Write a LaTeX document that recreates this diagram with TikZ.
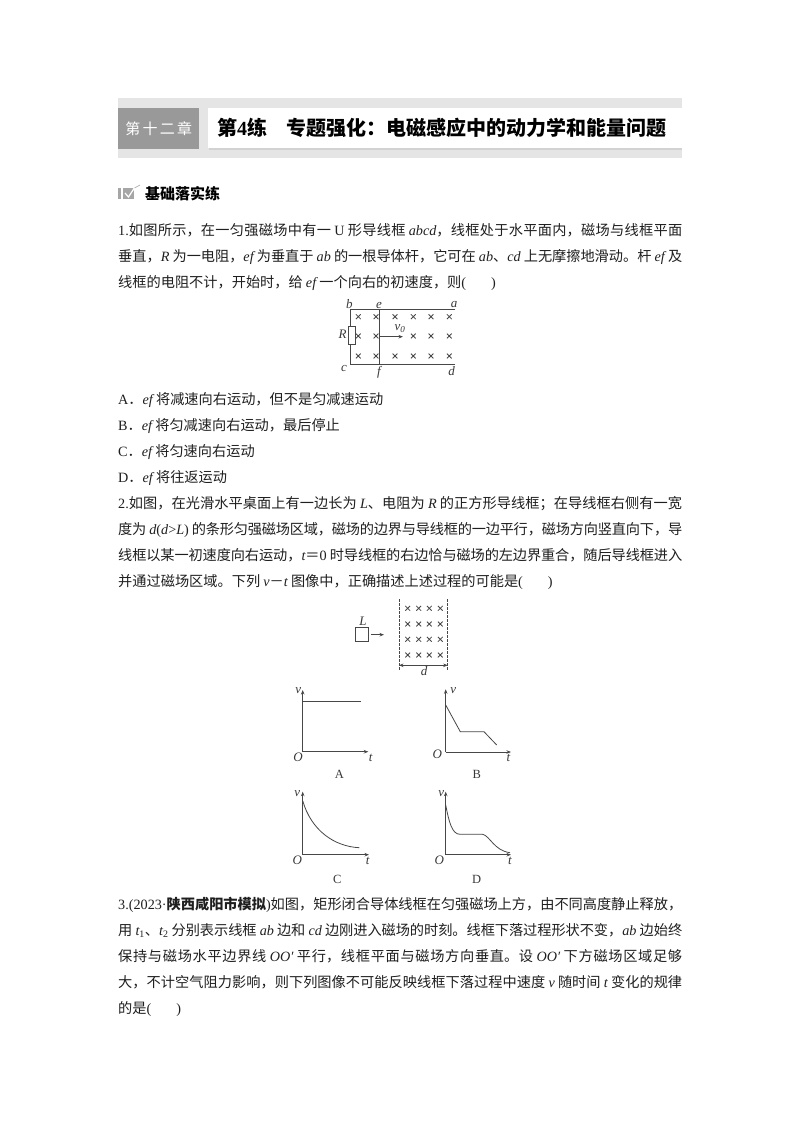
\documentclass[tikz,border=0pt]{standalone}
\usepackage{fontspec}
\usetikzlibrary{arrows.meta}
\setmainfont{Noto Sans CJK SC}
\newfontfamily\latf{Liberation Serif}
\newcommand\li[1]{{\latf\itshape #1}}
\newcommand\ro[1]{{\latf #1}}
\newcommand\jline[1]{\parbox[b]{564pt}{\tolerance=9999\hbadness=10000\parfillskip=0pt\parindent=0pt\rightskip=0pt #1}}
\XeTeXlinebreaklocale "zh"
\XeTeXlinebreakskip=0pt plus 4pt minus 1pt
\definecolor{ink}{gray}{0.12}
\definecolor{fig}{gray}{0.28}
\tikzset{
  txt/.style={anchor=base west,inner sep=0pt,font=\fontsize{14.2}{16}\selectfont,text=ink},
  lab/.style={inner sep=0pt,font=\fontsize{13}{14}\latf\itshape,text=fig!80!black},
  capt/.style={inner sep=0pt,font=\fontsize{12.5}{14}\latf,text=fig!80!black},
  wire/.style={draw=fig,line width=0.9pt},
  axis/.style={draw=fig,line width=0.9pt,-{Stealth[length=4.5pt,width=3.5pt]}},
  plot/.style={draw=fig,line width=0.8pt},
  xcr/.style={draw=fig,line width=0.8pt},
}
\begin{document}
\begin{tikzpicture}[x=1pt,y=-1pt]
\useasboundingbox (0,0) rectangle (800,1132);
\fill[white] (0,0) rectangle (800,1132);
% header
\fill[gray!20] (118,98) rectangle (682,158);
\fill[gray!35] (209,109) rectangle (682,149.5);
\node[fill=white,inner sep=0pt,anchor=north west,minimum height=40pt,minimum width=474pt] (titlebox) at (208,108) {};
\node[fill=gray!80,inner sep=0pt,anchor=north west,minimum width=81pt,minimum height=41pt,text=white,font=\fontsize{15}{16}\selectfont] (chap) at (118,108) {第\hspace{2.3pt}十\hspace{2.3pt}二\hspace{2.3pt}章};
\node[txt,font=\fontsize{20}{22}\bfseries\selectfont,text=black] (title) at (217,135.5) {第\ro{\textbf{4}}练\hspace{19pt}专题强化：电磁感应中的动力学和能量问题};
% section
\fill[gray!70] (118,188) rectangle (121,199);
\fill[gray!70] (123,188) rectangle (134,199);
\draw[white,line width=1.2pt] (125,193) -- (128.5,197) -- (135,187);
\draw[gray!70,line width=0.6pt] (134.5,188) -- (140,185);
\node[txt,font=\fontsize{15}{16}\bfseries\selectfont,text=black] (sect) at (145,199.5) {基础落实练};
% Q1
\node[txt] (q1a) at (118,235.5) {\jline{\ro{1.}如图所示，在一匀强磁场中有一 \ro{U} 形导线框 \li{abcd}，线框处于水平面内，磁场与线框平面}};
\node[txt] (q1b) at (118,261.5) {\jline{垂直，\li{R} 为一电阻，\li{ef} 为垂直于 \li{ab} 的一根导体杆，它可在 \li{ab}、\li{cd} 上无摩擦地滑动。杆 \li{ef} 及}};
\node[txt] (q1c) at (118,287.5) {线框的电阻不计，开始时，给 \li{ef} 一个向右的初速度，则\ro{(}\hspace{25pt}\ro{)}};
\node[txt] (oa) at (118,404.5) {\ro{A}．\li{ef} 将减速向右运动，但不是匀减速运动};
\node[txt] (ob) at (118,430.5) {\ro{B}．\li{ef} 将匀减速向右运动，最后停止};
\node[txt] (oc) at (118,456.5) {\ro{C}．\li{ef} 将匀速向右运动};
\node[txt] (od) at (118,482.5) {\ro{D}．\li{ef} 将往返运动};
% Q2
\node[txt] (q2a) at (118,508.5) {\jline{\ro{2.}如图，在光滑水平桌面上有一边长为 \li{L}、电阻为 \li{R} 的正方形导线框；在导线框右侧有一宽}};
\node[txt] (q2b) at (118,534.5) {\jline{度为 \li{d}\ro{(}\li{d}\ro{>}\li{L}\ro{)} 的条形匀强磁场区域，磁场的边界与导线框的一边平行，磁场方向竖直向下，导}};
\node[txt] (q2c) at (118,560) {\jline{线框以某一初速度向右运动，\li{t}＝\ro{0} 时导线框的右边恰与磁场的左边界重合，随后导线框进入}};
\node[txt] (q2d) at (118,586.5) {并通过磁场区域。下列 \li{v}－\li{t} 图像中，正确描述上述过程的可能是\ro{(}\hspace{25pt}\ro{)}};
% Q3
\node[txt] (q3a) at (118,909.5) {\jline{\ro{3.(2023·}{\bfseries 陕西咸阳市模拟}\ro{)}如图，矩形闭合导体线框在匀强磁场上方，由不同高度静止释放，}};
\node[txt] (q3b) at (118,935.5) {\jline{用 \li{t}\ro{\textsubscript{1}}、\li{t}\ro{\textsubscript{2}} 分别表示线框 \li{ab} 边和 \li{cd} 边刚进入磁场的时刻。线框下落过程形状不变，\li{ab} 边始终}};
\node[txt] (q3c) at (118,961.5) {\jline{保持与磁场水平边界线 \li{OO′} 平行，线框平面与磁场方向垂直。设 \li{OO′} 下方磁场区域足够}};
\node[txt] (q3d) at (118,987.5) {\jline{大，不计空气阻力影响，则下列图像不可能反映线框下落过程中速度 \li{v} 随时间 \li{t} 变化的规律}};
\node[txt] (q3e) at (118,1013.5) {的是\ro{(}\hspace{25pt}\ro{)}};
% Figure 1
\coordinate (fb) at (350.7,309.3);
\coordinate (fa) at (455,309.3);
\coordinate (fc) at (350.7,364.3);
\coordinate (fd) at (455,364.3);
\coordinate (fe) at (379,309.3);
\coordinate (ff) at (379,364.3);
\coordinate (fm) at (379,336.7);
\coordinate (fv) at (403,336.7);
\draw[wire] (fa) -- (fb) -- (fc) -- (fd);
\draw[wire] (fe) -- (ff);
\foreach \x in {358.3,376,395,413.3,431,449.3} \foreach \y in {316.7,356}
  \draw[xcr] (\x-2.4,\y-2.4) -- (\x+2.4,\y+2.4) (\x-2.4,\y+2.4) -- (\x+2.4,\y-2.4);
\foreach \x in {358.3,376,413.3,431,449.3} \foreach \y in {336}
  \draw[xcr] (\x-2.4,\y-2.4) -- (\x+2.4,\y+2.4) (\x-2.4,\y+2.4) -- (\x+2.4,\y-2.4);
\node[draw=fig,fill=white,line width=0.9pt,minimum width=7.3pt,minimum height=18.3pt,inner sep=0pt] (res) at (351.6,335.2) {};
\draw[axis] (fm) -- (fv);
\node[lab] (lb) at (349.3,304.5) {b};
\node[lab] (le) at (379,305) {e};
\node[lab] (la) at (454,305) {a};
\node[lab] (lR) at (342.7,334) {R};
\node[lab] (lc) at (344,368) {c};
\node[lab] (lf) at (379,372) {f};
\node[lab] (ld) at (451.7,371) {d};
\node[lab] (lv0) at (400,329) {v\ro{\textsubscript{0}}};
% Figure 2
\node[draw=fig,line width=0.9pt,minimum width=13.7pt,minimum height=14pt,inner sep=0pt] (sq) at (361.9,634.3) {};
\coordinate (sqa) at (371,634.7);
\coordinate (sqt) at (384,634.7);
\draw[axis] (sqa) -- (sqt);
\node[lab] (lL) at (363,621) {L};
\coordinate (d1t) at (399,599.3);
\coordinate (d1b) at (399,671);
\coordinate (d2t) at (447.7,599.3);
\coordinate (d2b) at (447.7,671);
\draw[wire,dash pattern=on 2.5pt off 1.5pt] (d1t) -- (d1b);
\draw[wire,dash pattern=on 2.5pt off 1.5pt] (d2t) -- (d2b);
\foreach \x in {407.7,418.7,429.3,440.3} \foreach \y in {608.3,624,639.3,655}
  \draw[xcr] (\x-2.4,\y-2.4) -- (\x+2.4,\y+2.4) (\x-2.4,\y+2.4) -- (\x+2.4,\y-2.4);
\coordinate (dl) at (399,665.3);
\coordinate (dr) at (447.7,665.3);
\draw[draw=fig,line width=0.8pt,{Stealth[length=4.5pt,width=3.5pt]}-{Stealth[length=4.5pt,width=3.5pt]}] (dl) -- (dr);
\node[lab] (ldd) at (424,671.5) {d};
% Graph A
\coordinate (aO) at (302.7,751.7);
\coordinate (aV) at (302.7,690);
\coordinate (aT) at (368.3,751.7);
\draw[axis] (aO) -- (aV);
\draw[axis] (aO) -- (aT);
\coordinate (a1) at (302.7,701.7);
\coordinate (a2) at (360.7,701.7);
\draw[plot] (a1) -- (a2);
\node[lab] (av) at (298.3,690.5) {v};
\node[lab] (aOl) at (298,757) {O};
\node[lab] (atl) at (370.7,758) {t};
\node[capt] (acap) at (339.3,774) {A};
% Graph B
\coordinate (bO) at (445.7,752);
\coordinate (bV) at (445.7,689.3);
\coordinate (bT) at (511,752);
\draw[axis] (bO) -- (bV);
\draw[axis] (bO) -- (bT);
\coordinate (b1) at (445.7,705);
\coordinate (b2) at (460.3,731.7);
\coordinate (b3) at (484,731.7);
\coordinate (b4) at (496.7,745);
\draw[plot] (b1) -- (b2) -- (b3) -- (b4);
\node[lab] (bv) at (453.3,690.7) {v};
\node[lab] (bOl) at (437.3,754) {O};
\node[lab] (btl) at (508.3,758.3) {t};
\node[capt] (bcap) at (476.7,774) {B};
% Graph C
\coordinate (cO) at (302.7,854.7);
\coordinate (cV) at (302.7,791.7);
\coordinate (cT) at (369,854.7);
\draw[axis] (cO) -- (cV);
\draw[axis] (cO) -- (cT);
\coordinate (c1) at (302.7,800.7);
\coordinate (c2) at (359.3,847.7);
\draw[plot] (c1) .. controls (311,830) and (334,846.5) .. (c2);
\node[lab] (cv) at (297.3,793.3) {v};
\node[lab] (cOl) at (297.3,860.7) {O};
\node[lab] (ctl) at (367.7,860.7) {t};
\node[capt] (ccap) at (337.3,879.3) {C};
% Graph D
\coordinate (dO) at (445.7,854.7);
\coordinate (dV) at (445.7,791.7);
\coordinate (dT) at (511,854.7);
\coordinate (dH) at (475,854.7);
\draw[axis] (dO) -- (dV);
\draw[axis] (dO) -- (dT);
\draw[draw=fig,line width=1.2pt] (dO) -- (dH);
\coordinate (d1) at (445.7,805);
\coordinate (d2) at (460,834.3);
\coordinate (d3) at (482.7,834.3);
\coordinate (d4) at (510,852.7);
\draw[plot] (d1) .. controls (449,822) and (452,834.3) .. (d2) -- (d3) .. controls (490,836) and (494,850.5) .. (d4);
\node[lab] (dv) at (441.3,794) {v};
\node[lab] (dOl) at (439.3,860) {O};
\node[lab] (dtl) at (510,860.7) {t};
\node[capt] (dcap) at (476.7,879.3) {D};
\end{tikzpicture}
\end{document}
